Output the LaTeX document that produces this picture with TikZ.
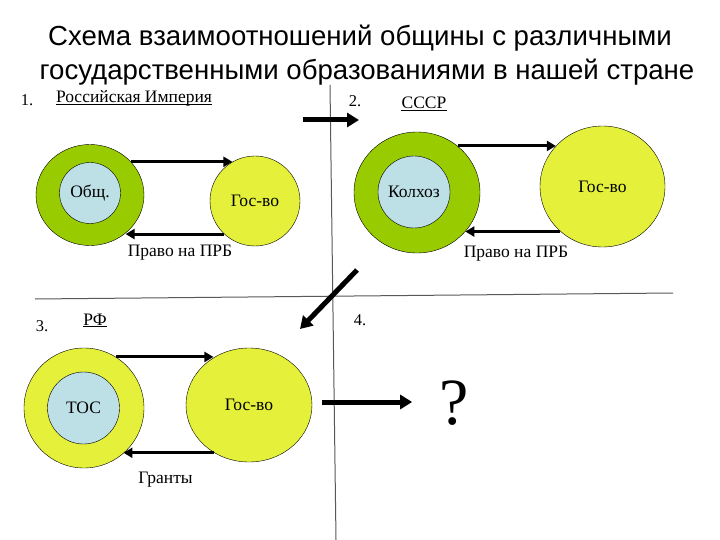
\documentclass[tikz,border=0pt]{standalone}
\usepackage{fontspec}
\setmainfont{Liberation Serif}
\newfontfamily\titlefont{Liberation Sans}
\usetikzlibrary{arrows.meta,shapes.geometric}

\definecolor{ringgreen}{RGB}{153,204,0}
\definecolor{limeyellow}{RGB}{228,240,58}
\definecolor{paleblue}{RGB}{188,224,230}

\begin{document}
\begin{tikzpicture}[x=1pt, y=-1pt,
    every node/.style={font=\fontsize{17.5}{20}\selectfont},
    ttl/.style={font=\titlefont\fontsize{27.6}{32}\selectfont},
    num/.style={font=\fontsize{16.5}{18}\selectfont, inner sep=0pt, anchor=base},
    ring/.style={ellipse, draw, inner sep=0pt},
    core/.style={circle, draw, fill=paleblue, inner sep=0pt},
    gov/.style={ellipse, draw, fill=limeyellow, inner sep=0pt},
    e/.style={line width=3pt, -{Triangle[length=9pt, width=10pt]}},
    big/.style={line width=5pt, -{Triangle[length=12pt, width=14pt]}},
    hd/.style={inner sep=0pt, anchor=base},
    sep/.style={black!65, line width=1pt},
  ]
  \useasboundingbox (0,0) rectangle (720,540);
  \fill[white] (0,0) rectangle (720,540);

  \node[ttl] (t1) at (360,38) {Схема взаимоотношений общины с различными};
  \node[ttl] (t2) at (367,72) {государственными образованиями в нашей стране};

  \coordinate (vtop) at (330,85);
  \coordinate (vbot) at (336,540);
  \coordinate (hlft) at (35,299);
  \coordinate (hrgt) at (673,293);
  \draw[sep] (vtop) -- (vbot);
  \draw[sep] (hlft) -- (hrgt);

  \node[num] (n1) at (27,106) {1.};
  \node[hd] (h1) at (134,103) {Российская Империя};
  \draw ([yshift=-1.5pt]h1.base west) -- ([yshift=-1.5pt]h1.base east);
  \node[ring, fill=ringgreen, minimum width=108pt, minimum height=101pt] (obsh) at (90,195) {};
  \node[core, minimum size=61pt] (obshc) at (90,193) {Общ.};
  \node[gov, minimum width=90pt, minimum height=90pt] (gov1) at (255,201) {Гос-во};
  \draw[e] (obsh.39) -- (obsh.39 -| gov1.120);
  \draw[e] (gov1.227) -- (gov1.227 -| obsh.313);
  \node[hd] (prb1) at (180,256) {Право на ПРБ};

  \node[num] (n2) at (355,107) {2.};
  \node[hd] (h2) at (424,109) {СССР};
  \draw ([yshift=-1.5pt]h2.base west) -- ([yshift=-1.5pt]h2.base east);
  \node[ring, fill=ringgreen, minimum width=126pt, minimum height=121pt] (kolh) at (417,192.5) {};
  \node[core, minimum size=72pt] (kolhc) at (414,192) {Колхоз};
  \node[gov, minimum width=125pt, minimum height=121pt] (gov2) at (602.5,186.5) {Гос-во};
  \draw[e] (kolh.49) -- (kolh.49 -| gov2.139);
  \draw[e] (gov2.227) -- (gov2.227 -| kolh.321);
  \node[hd] (prb2) at (516,257) {Право на ПРБ};

  \node[num] (n3) at (42,331) {3.};
  \node[hd] (h3) at (95,325) {РФ};
  \draw ([yshift=-1.5pt]h3.base west) -- ([yshift=-1.5pt]h3.base east);
  \node[ring, fill=limeyellow, minimum width=120pt, minimum height=120pt] (tos) at (84,408) {};
  \node[core, minimum size=72pt] (tosc) at (83.5,408) {ТОС};
  \node[gov, minimum width=126pt, minimum height=114pt] (gov3) at (249,405) {Гос-во};
  \draw[e] (tos.58) -- (tos.58 -| gov3.127);
  \draw[e] (gov3.234) -- (gov3.234 -| tos.311);
  \node[hd] (grant) at (165.5,483) {Гранты};

  \node[num] (n4) at (360,325) {4.};
  \node[inner sep=0pt, font=\fontsize{66}{70}\selectfont] (q) at (454,403) {?};

  \coordinate (s12) at (303,120);
  \coordinate (e12) at (359,120);
  \coordinate (s23) at (357,270);
  \coordinate (e23) at (300,329);
  \coordinate (s34) at (322,402);
  \draw[big] (s12) -- (e12);
  \draw[big] (s23) -- (e23);
  \draw[big] (s34) -- ([xshift=-27pt]s34 -| q.west);
\end{tikzpicture}
\end{document}
